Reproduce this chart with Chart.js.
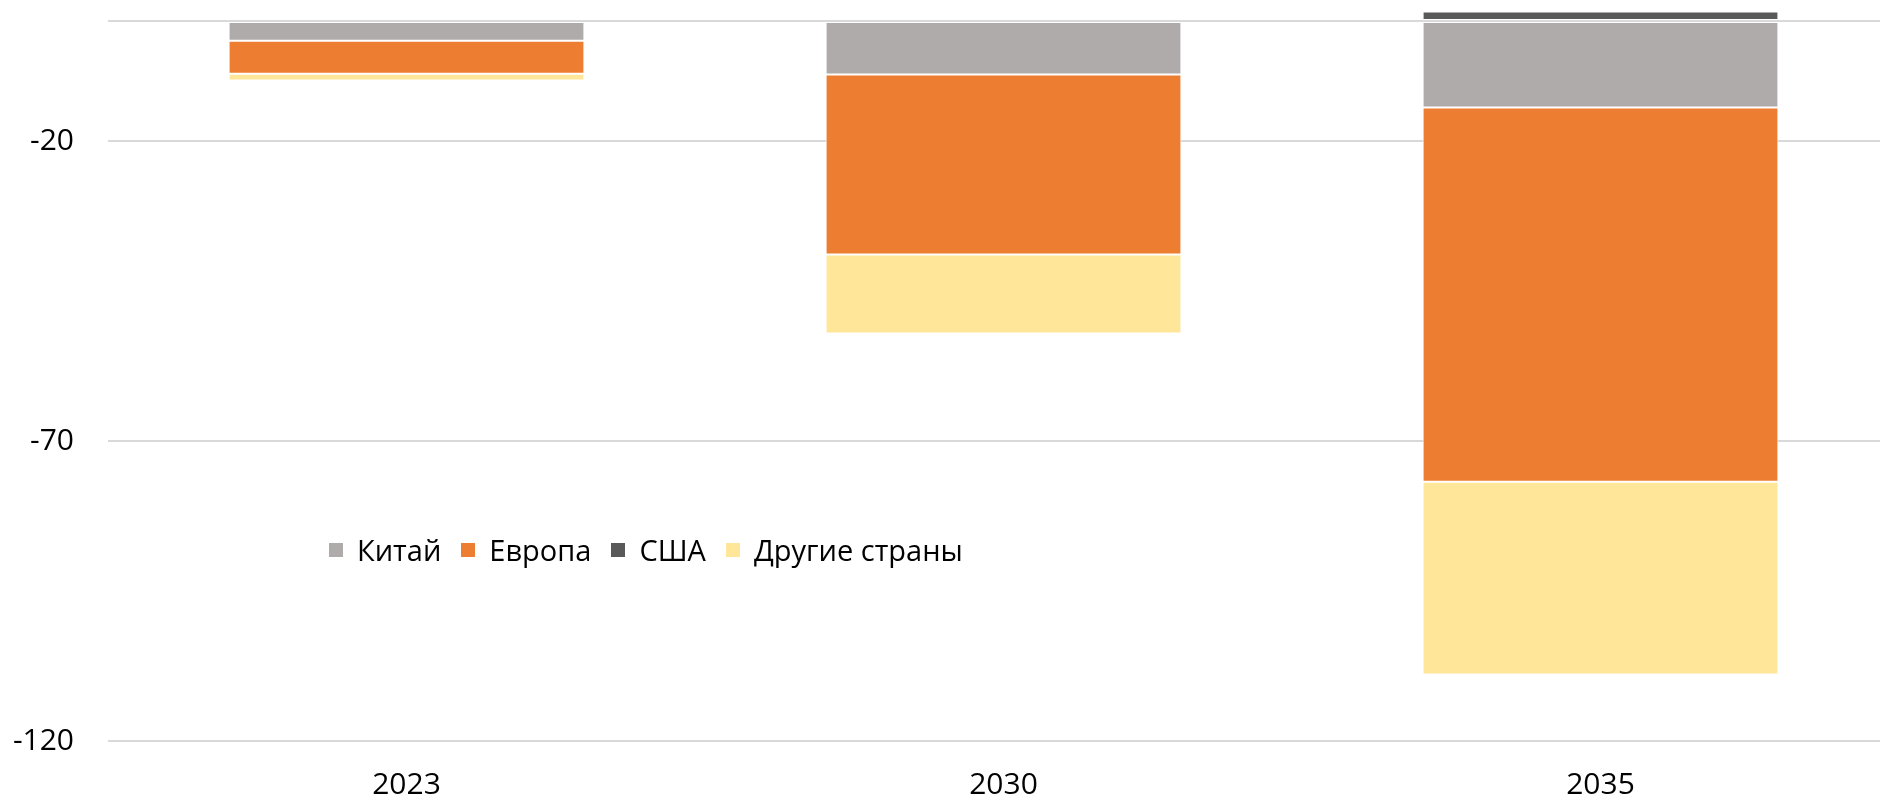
<!DOCTYPE html>
<html>
<head>
<meta charset="utf-8">
<script src="https://cdn.jsdelivr.net/npm/chart.js@4.4.1/dist/chart.umd.min.js"></script>
<style>
  html, body { margin: 0; padding: 0; background: #fff; width: 1880px; height: 801px; overflow: hidden; }
  #wrap { position: relative; width: 1899px; height: 801px; }
  #wrap canvas { display: block; }
  #legend { position: absolute; left: 329px; top: 530px; display: flex; align-items: center;
            font-family: "Open Sans", "Noto Sans", sans-serif; font-size: 29px; color: #000; white-space: nowrap; }
  #legend .item { display: flex; align-items: center; margin-right: 20px; }
  #legend .sw { width: 14px; height: 14px; margin-right: 14px; }
</style>
</head>
<body>
<div id="wrap">
  <canvas id="c" width="1899" height="801"></canvas>
  <div id="legend"></div>
</div>
<script>
const categories = ['2023', '2030', '2035'];
const seriesNames = ['Китай', 'Европа', 'США', 'Другие страны'];
const china  = [-3.3, -8.9, -14.4];
const europe = [-5.5, -30.0, -62.4];
const usa    = [0, 0, 1.6];
const others = [-1.1, -13.2, -32.1];
const yTicks = [-120, -70, -20, 0];
const colors = ['#AFABAB', '#ED7D31', '#595959', '#FFE699'];

const seriesValues = [china, europe, usa, others];
const FONT = '"Open Sans", "Noto Sans", sans-serif';

const datasets = seriesNames.map((name, i) => ({
  label: name,
  data: seriesValues[i],
  backgroundColor: colors[i],
  borderColor: '#ffffff',
  borderWidth: 1,
  borderSkipped: false,
  stack: 's',
  barPercentage: 0.596,
  categoryPercentage: 1.0
}));

const chart = new Chart(document.getElementById('c'), {
  type: 'bar',
  data: { labels: categories, datasets },
  options: {
    responsive: false,
    animation: false,
    devicePixelRatio: 1,
    layout: { padding: 0 },
    plugins: { legend: { display: false }, tooltip: { enabled: false } },
    scales: {
      x: {
        stacked: true,
        grid: { display: false, drawTicks: false },
        border: { display: false },
        ticks: { color: '#000', font: { family: FONT, size: 30 }, padding: 26, maxRotation: 0 },
        afterFit: (s) => { s.height = 60; s.paddingLeft = 0; s.paddingRight = 0; }
      },
      y: {
        stacked: true,
        min: -120,
        max: 3.5,
        afterBuildTicks: (s) => { s.ticks = yTicks.map(v => ({ value: v })); },
        grid: { color: '#D9D9D9', lineWidth: 2, drawTicks: false },
        border: { display: false },
        ticks: {
          color: '#000', font: { family: FONT, size: 30 }, padding: 34,
          callback: (v) => (v === 0 ? '' : String(v))
        },
        afterFit: (s) => { s.width = 108; s.paddingTop = 0; s.paddingBottom = 0; }
      }
    }
  }
});

const legend = document.getElementById('legend');
chart.data.datasets.forEach(ds => {
  const item = document.createElement('div');
  item.className = 'item';
  const sw = document.createElement('span');
  sw.className = 'sw';
  sw.style.background = ds.backgroundColor;
  const tx = document.createElement('span');
  tx.textContent = ds.label;
  item.appendChild(sw);
  item.appendChild(tx);
  legend.appendChild(item);
});
</script>
</body>
</html>
